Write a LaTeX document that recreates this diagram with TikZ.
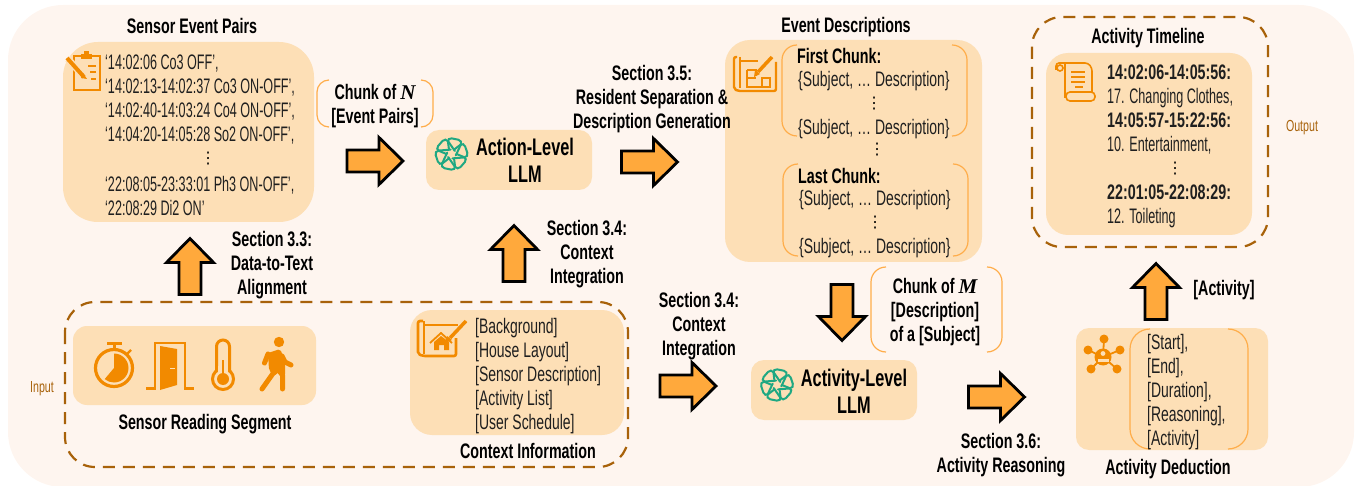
\documentclass[tikz,border=0pt]{standalone}
\usepackage{fontspec}
\setmainfont[FakeStretch=0.6,BoldFeatures={FakeStretch=0.68}]{Liberation Sans}
\newfontfamily\widefont[FakeStretch=0.665]{Liberation Sans}
\newfontfamily\dotsfont{DejaVu Sans}
\newfontfamily\mathlike{Liberation Serif Bold Italic}
\definecolor{bgc}{HTML}{FEF5EF}
\definecolor{boxc}{HTML}{FDDFB6}
\definecolor{brk}{HTML}{FFAD4A}
\definecolor{icon}{HTML}{F28A00}
\definecolor{dash}{HTML}{A8620A}
\definecolor{arr}{HTML}{FFA93C}
\definecolor{gpt}{HTML}{1FA882}
\newcommand{\vd}{{\dotsfont\fontsize{16}{16}\selectfont ⋮}}
\newcommand{\ital}[1]{{\mathlike #1}}
\newcommand{\blockarrow}[4]{\coordinate (#1) at (#2,#3);
  \draw[bigarrow,shift={(#2,#3)},rotate=#4] (-28.5,-11)--(3.5,-11)--(3.5,-23.5)--(27.5,0)--(3.5,23.5)--(3.5,11)--(-28.5,11)--cycle;}
\tikzset{
  panel/.style={fill=boxc,rounded corners=#1,inner sep=0},
  dashbox/.style={draw=dash,line width=2.2pt,dash pattern=on 12pt off 8pt,rounded corners=#1},
  bracket/.style={draw=brk,line width=1.2pt,rounded corners=#1},
  bigarrow/.style={draw=black,fill=arr,line width=2.8pt,miter limit=6},
  txt/.style={inner sep=0,align=left,font=\fontsize{21}{24}\selectfont,text=black!88},
  wtxt/.style={inner sep=0,align=left,font=\fontsize{21}{24}\selectfont\widefont,text=black!88},
  ttl/.style={inner sep=0,yshift=-1.3pt,align=center,font=\fontsize{21}{24}\selectfont\bfseries,text=black},
  llm/.style={inner sep=0,align=center,font=\fontsize{24}{27}\selectfont\bfseries,text=black},
  tag/.style={inner sep=0,font=\fontsize{16}{16}\selectfont\widefont,text=dash},
  ic/.style={draw=icon,line width=2pt},
  openai/.pic={
    \foreach \a in {0,60,...,300}{
      \draw[gpt,line width=2pt,rounded corners=4.5pt,line cap=round] (\a:5) -- (\a+16:17) -- (\a+70:17.5) -- (\a+138:4.5);
    }
  }
}
\begin{document}
\begin{tikzpicture}[x=1pt,y=-1pt]
\useasboundingbox (0,0) rectangle (1362,486);
\node[panel=55pt,fill=bgc,minimum width=1346pt,minimum height=482pt] (bg) at (681,246) {};
% panels
\node[panel=35pt,minimum width=251pt,minimum height=180pt] (sensor) at (188.5,132) {};
\node[panel=13pt,minimum width=166pt,minimum height=60pt] (action) at (509,160) {};
\node[panel=13pt,minimum width=166pt,minimum height=60pt] (activity) at (834,390) {};
\node[panel=25pt,minimum width=257pt,minimum height=222pt] (events) at (853.5,151) {};
\node[panel=22pt,minimum width=206pt,minimum height=182pt] (timeline) at (1149,144) {};
\node[panel=13pt,minimum width=192pt,minimum height=122pt] (deduce) at (1172,389) {};
\node[panel=14pt,minimum width=243pt,minimum height=79pt] (reading) at (194.5,365.5) {};
\node[panel=22pt,minimum width=214pt,minimum height=125pt] (context) at (517,372.5) {};
% dashed groups
\draw[dashbox=30pt] (65,302) rectangle (628,467);
\draw[dashbox=30pt] (1032,17) rectangle (1268,247);
% brackets
\draw[bracket=12pt] (329,80) -- (317,80) -- (317,127) -- (329,127);
\draw[bracket=12pt] (421,80) -- (433,80) -- (433,127) -- (421,127);
\draw[bracket=15pt] (797,45) -- (782,45) -- (782,136) -- (797,136);
\draw[bracket=15pt] (952,45) -- (967,45) -- (967,136) -- (952,136);
\draw[bracket=15pt] (798,164) -- (783,164) -- (783,256) -- (798,256);
\draw[bracket=15pt] (953,164) -- (968,164) -- (968,256) -- (953,256);
\draw[bracket=15pt] (886,267) -- (871,267) -- (871,352) -- (886,352);
\draw[bracket=15pt] (987,267) -- (1002,267) -- (1002,352) -- (987,352);
\draw[bracket=20pt] (1150,329) -- (1130,329) -- (1130,449) -- (1150,449);
\draw[bracket=20pt] (1228,329) -- (1248,329) -- (1248,449) -- (1228,449);
% arrows
\blockarrow{a1}{375.5}{161}{0}
\blockarrow{a2}{190}{266}{90}
\blockarrow{a3}{514}{253}{90}
\blockarrow{a4}{650}{162}{0}
\blockarrow{a5}{842}{313}{-90}
\blockarrow{a6}{688.5}{386}{0}
\blockarrow{a7}{997}{397}{0}
\blockarrow{a8}{1156}{291}{90}
% titles and labels
\node[ttl] (t1) at (192,25) {Sensor Event Pairs};
\node[ttl] (t2) at (846,26) {Event Descriptions};
\node[ttl] (t3) at (1148,37) {Activity Timeline};
\node[ttl] (t4) at (205,423) {Sensor Reading Segment};
\node[ttl] (t5) at (528,450) {Context Information};
\node[ttl] (t6) at (1168,468) {Activity Deduction};
\node[ttl] (s33) at (272,264) {Section 3.3:\\Data-to-Text\\Alignment};
\node[ttl] (s34a) at (587,253) {Section 3.4:\\Context\\Integration};
\node[ttl] (s35) at (652,98) {Section 3.5:\\Resident Separation \&\\Description Generation};
\node[ttl] (s34b) at (699,325) {Section 3.4:\\Context\\Integration};
\node[ttl] (s36) at (1001,454) {Section 3.6:\\Activity Reasoning};
\node[ttl] (lact) at (1224,289) {[Activity]};
\node[ttl] (chn) at (375,104.5) {Chunk of \ital{N}\\{}[Event Pairs]};
\node[ttl] (chm) at (935,311) {Chunk of \ital{M}\\{}[Description]\\of a [Subject]};
\node[llm] (l1) at (525,160.5) {Action-Level\\LLM};
\node[llm] (l2) at (854,391.5) {Activity-Level\\LLM};
\node[tag] (inp) at (42,389) {Input};
\node[tag] (outp) at (1302,128) {Output};
% lists
\node[txt,anchor=west] (ev1) at (105,100) {‘14:02:06 Co3 OFF’,\\‘14:02:13-14:02:37 Co3 ON-OFF’,\\‘14:02:40-14:03:24 Co4 ON-OFF’,\\‘14:04:20-14:05:28 So2 ON-OFF’,};
\node[inner sep=0] (d1) at (208,159) {\vd};
\node[txt,anchor=west] (ev2) at (105,195.5) {‘22:08:05-23:33:01 Ph3 ON-OFF’,\\‘22:08:29 Di2 ON’};
\node[wtxt,anchor=west] (ctx) at (475,376) {[Background]\\{}[House Layout]\\{}[Sensor Description]\\{}[Activity List]\\{}[User Schedule]};
\node[wtxt,anchor=west] (ded) at (1147,392) {[Start],\\{}[End],\\{}[Duration],\\{}[Reasoning],\\{}[Activity]};
\node[ttl,anchor=west] (fch) at (797,55) {First Chunk:};
\node[wtxt,anchor=west] (fc) at (798,81) {\{Subject, … Description\}};
\node[inner sep=0] (d2) at (874,104) {\vd};
\node[wtxt,anchor=west] (fc2) at (798,129) {\{Subject, … Description\}};
\node[inner sep=0] (d3) at (877,150) {\vd};
\node[ttl,anchor=west] (lch) at (798,175) {Last Chunk:};
\node[wtxt,anchor=west] (lc) at (799,200) {\{Subject, … Description\}};
\node[inner sep=0] (d4) at (875,223) {\vd};
\node[wtxt,anchor=west] (lc2) at (799,248) {\{Subject, … Description\}};
\node[txt,anchor=west] (tl1) at (1107,110) {\textbf{14:02:06-14:05:56:}\\17. Changing Clothes,\\\textbf{14:05:57-15:22:56:}\\10. Entertainment,};
\node[inner sep=0] (d5) at (1175,169) {\vd};
\node[txt,anchor=west] (tl2) at (1107,206) {\textbf{22:01:05-22:08:29:}\\12. Toileting};
% OpenAI marks
\begin{scope}[shift={(451.5,154)},scale=0.8]\pic {openai};\end{scope}
\begin{scope}[shift={(777,385)},scale=0.8]\pic {openai};\end{scope}
% clipboard
\draw[ic] (81,56) -- (74,56) -- (74,90) -- (100,90) -- (100,56) -- (92,56);
\fill[icon] (81,54) rectangle (92,59);
\fill[icon] (84,51) rectangle (89,55);
\draw[ic,line width=1.4pt] (88,66)--(96,66) (90,72)--(96,72) (91,79)--(96,79);
\draw[boxc,line width=7pt] (68,59)--(86,79);
\draw[icon,line width=4pt] (67,58)--(84,77);
\fill[icon] (83,73)--(87,79)--(81,78)--cycle;
% context blueprint
\draw[ic,line width=2.6pt,rounded corners=2pt] (423,321)--(418,321)--(418,354)--(423,356)--(456,356)--(456,338);
\draw[ic,line width=2.6pt] (424,321)--(424,354);
\draw[ic,line width=1.6pt] (424,325)--(458,325);
\draw[icon,line width=3.5pt] (466,321)--(450,338);
\fill[icon] (447,336)--(452,340)--(445,343)--cycle;
\draw[ic,line width=1.8pt] (430,343)--(441,333)--(452,343);
\fill[icon] (434,342)--(441,336)--(449,342)--(449,350)--(444,350)--(444,345)--(439,345)--(439,350)--(434,350)--cycle;
% events blueprint
\draw[ic,line width=2.4pt,rounded corners=2pt] (737,57)--(734,57)--(734,89)--(738,91)--(776,91)--(776,62);
\draw[ic,line width=2.4pt] (740,57)--(740,88);
\draw[ic,line width=1.4pt] (741,61)--(758,61) (747,70)--(756,70)--(756,76) (747,70)--(747,87)--(770,87)--(770,77)(747,78)--(756,78) (762,78)--(770,78)--(762,78)--(762,87);
\draw[icon,line width=3.5pt] (772,57)--(758,72);
\fill[icon] (755,70)--(760,74)--(754,77)--cycle;
% scroll
\draw[ic,line width=1.6pt,rounded corners=3pt] (1056,70)--(1056,63)--(1088,63)--(1092,68)--(1092,93);
\draw[ic,line width=1.6pt,rounded corners=3pt] (1065,63)--(1065,98);
\draw[ic,line width=1.6pt] (1060,68) circle[radius=3];
\draw[ic,line width=1.6pt,rounded corners=4pt] (1066,92) rectangle (1095,101);
\draw[ic,line width=1.3pt] (1071,72)--(1085,72) (1071,77)--(1085,77) (1071,82)--(1085,82) (1075,87)--(1083,87);
% network
\foreach \px/\py in {1104/339,1088/350,1120/350,1091/369,1117/369}{
  \draw[icon,line width=1.8pt] (1103,357)--(\px,\py);
  \fill[icon] (\px,\py) circle[radius=4.5];
}
\fill[icon] (1103,357) circle[radius=8.5];
\fill[boxc] (1103,353.5) circle[radius=2.4];
\fill[boxc] (1097.5,362) rectangle (1108.5,359);
% stopwatch
\draw[ic,line width=3.2pt] (114,368) circle[radius=18.5];
\fill[icon] (107,342) rectangle (122,345);
\draw[ic,line width=3pt] (114,345)--(114,349);
\draw[ic,line width=2.4pt] (127,354)--(131,350);
\begin{scope}[shift={(114,368)},y=1pt]
\fill[icon] (0,0)--(0,14.5) arc[start angle=90,end angle=-130,radius=14.5]--cycle;
\end{scope}
% door
\draw[ic,line width=2.8pt] (146,388.5)--(155,388.5)--(155,343)--(185,343)--(185,388.5)--(194,388.5);
\fill[icon] (160,346)--(177,349)--(177,385)--(160,390)--cycle;
\draw[boxc,line width=1pt] (170,368.5)--(175,368.5);
% thermometer
\draw[ic,line width=3pt,rounded corners=6.5pt] (216.5,372) -- (216.5,340) -- (229.5,340) -- (229.5,372);
\draw[ic,line width=3pt] (223,379) circle[radius=10.5];
\fill[boxc] (218,366) rectangle (228,374);
\fill[icon] (223,379) circle[radius=6];
\draw[ic,line width=1.6pt] (223,360)--(223,376);
% walker
\fill[icon] (279,342) circle[radius=5.2];
\fill[icon,rounded corners=2pt] (268,353)--(280,349)--(285,360)--(285,376)--(280,376)--(279,372)--(274,376)--(269,370)--cycle;
\draw[icon,line width=5pt,line cap=round,line join=round] (268,354)--(264.5,363) (282,356)--(285,362)--(291,365) (274,372)--(262,389) (280,372)--(282.5,375)--(282.5,389);
\end{tikzpicture}
\end{document}
